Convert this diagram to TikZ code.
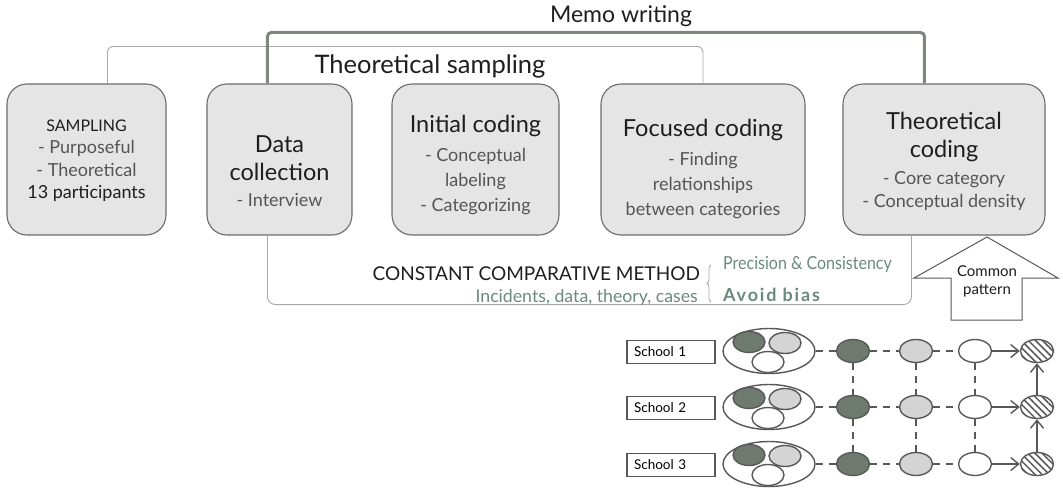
\documentclass[tikz,border=0pt]{standalone}
\usepackage{fontspec}
\usepackage{graphicx}
\setmainfont{Lato}
\usetikzlibrary{arrows.meta,patterns.meta,shapes.geometric,decorations.pathreplacing}
\definecolor{boxfill}{HTML}{E6E5E5}
\definecolor{boxline}{HTML}{6B6B6B}
\definecolor{titlec}{HTML}{1E1E1E}
\definecolor{subc}{HTML}{555555}
\definecolor{memoc}{HTML}{7D877D}
\definecolor{thinc}{HTML}{A8A8A8}
\definecolor{greenc}{HTML}{6A8A7C}
\definecolor{darkf}{HTML}{6F7A6E}
\definecolor{lightf}{HTML}{D4D4D4}
\definecolor{inkc}{HTML}{585858}
\newcommand\dimtxt[1]{{\fontsize{18}{24}\selectfont\textcolor{subc}{#1}}}
\begin{document}
\begin{tikzpicture}[x=1pt,y=-1pt,
  box/.style={draw=boxline, line width=1.1pt, fill=boxfill, rounded corners=20pt,
    minimum height=151pt, inner sep=0pt},
  btext/.style={align=center, inner sep=0pt, text=titlec, font=\fontsize{23.5}{28}\selectfont},
  memoline/.style={draw=memoc, line width=3pt, rounded corners=4pt},
  thinline/.style={draw=thinc, line width=0.9pt, rounded corners=6pt},
  lbl/.style={inner sep=0pt, text=titlec},
  schoolbox/.style={draw=inkc, line width=1.3pt, minimum height=23pt, text width=74pt,
    inner xsep=7pt, inner ysep=0pt, align=left, font=\fontsize{13.5}{15}\selectfont},
  grp/.style={ellipse, draw=inkc, line width=1.4pt, fill=white, minimum width=92pt, minimum height=45pt, inner sep=0pt},
  cell/.style={ellipse, draw=inkc, line width=1.4pt, minimum width=33pt, minimum height=23pt, inner sep=0pt},
  gcell/.style={cell, minimum width=32pt, minimum height=21pt},
  dk/.style={fill=darkf},
  lt/.style={fill=lightf},
  wh/.style={fill=white},
  ht/.style={cell, pattern={Lines[angle=-45,distance=5pt,line width=1.5pt]}, pattern color=inkc},
  dline/.style={draw=inkc, line width=1.6pt, dash pattern=on 7pt off 6pt},
  aline/.style={draw=inkc, line width=1.6pt, -{Straight Barb[length=8pt,width=13pt,line width=1.4pt]}},
]
\useasboundingbox (0,0) rectangle (1063,493);

% main boxes
\node[box, minimum width=159pt] (samp) at (86.5,159.5) {};
\node[box, minimum width=145pt] (data) at (279.5,159.5) {};
\node[box, minimum width=167pt] (init) at (475.5,159.5) {};
\node[box, minimum width=204pt] (foc) at (703,159.5) {};
\node[box, minimum width=202pt] (theo) at (944,159.5) {};

\node[btext, font=\fontsize{18}{22.5}\selectfont] (samp-t) at ([yshift=-1pt]samp.center)
  {{\fontsize{16}{22.5}\selectfont SAMPLING}\\ \textcolor{subc}{- Purposeful}\\ \textcolor{subc}{- Theoretical}\\ 13 participants};
\node[btext] (data-t) at ([yshift=-12pt]data.center)
  {Data\\ collection\\[-2pt] \dimtxt{- Interview}};
\node[btext] (init-t) at ([yshift=-5pt]init.center)
  {Initial coding\\[1pt] \dimtxt{- Conceptual}\\[-3pt] \dimtxt{labeling}\\[-3pt] \dimtxt{- Categorizing}};
\node[btext] (foc-t) at ([yshift=-9pt]foc.center)
  {Focused coding\\[1pt] \dimtxt{- Finding}\\[-3pt] \dimtxt{relationships}\\[-3pt] \dimtxt{between categories}};
\node[btext] (theo-t) at ([yshift=-2pt]theo.center)
  {Theoretical\\ coding\\[-1pt] \dimtxt{- Core category}\\[-5pt] \dimtxt{- Conceptual density}};

% brackets
\draw[thinline] ([xshift=101pt]samp.north west) -- ++(0,-37) -| (foc.north);
\draw[memoline] ([xshift=61pt]data.north west) -- ++(0,-51) -| ([xshift=82pt]theo.north west);
\draw[thinline, rounded corners=8pt] ([xshift=61pt]data.south west) -- ++(0,69) -| ([xshift=69pt]theo.south west);

\node[lbl, anchor=base, font=\fontsize{23}{26}\selectfont] (memo) at (621,22) {Memo writing};
\node[lbl, anchor=base, font=\fontsize{25.5}{28}\selectfont] (tsamp) at (430,73) {Theoretical sampling};

% constant comparative method
\node[lbl, anchor=base east, font=\fontsize{19}{22}\selectfont] (ccm) at (700,280) {CONSTANT COMPARATIVE METHOD};
\node[lbl, anchor=base east, text=greenc, font=\fontsize{17.7}{20}\selectfont] (inc) at (698,302) {Incidents, data, theory, cases};
\draw[thinc, line width=0.8pt, decorate, decoration={brace, amplitude=4pt}] (711,302) -- (711,265);
\node[lbl, anchor=base west, text=greenc, font=\fontsize{18}{20}\selectfont] (prec) at (723,269) {\scalebox{0.89}[1]{Precision \& Consistency}};
\node[lbl, anchor=base west, text=greenc, font=\bfseries\fontsize{18}{20}\selectfont\addfontfeature{LetterSpace=10}] (bias) at (723,301) {Avoid bias};

% common pattern arrow
\draw[inkc, line width=1pt, fill=white] (987,237) -- (1058,278) -- (1022,278) -- (1022,320)
  -- (951,320) -- (951,278) -- (914,278) -- cycle;
\node[lbl, align=center, font=\fontsize{15}{18}\selectfont] (cp) at (987,281) {Common\\ pattern};

% schools
\foreach \r/\y in {1/352,2/408,3/465}{
  \node[schoolbox] (s\r) at (671,\y) {School \r};
  \node[grp] (g\r) at (769,\y-1) {};
  \node[gcell, dk] (gd\r) at (749,\y-10) {};
  \node[gcell, lt] (gl\r) at (785,\y-9) {};
  \node[gcell, wh] (gw\r) at (768,\y+10) {};
  \node[cell, dk] (d\r) at (853,\y-1) {};
  \node[cell, lt] (l\r) at (916,\y-1) {};
  \node[cell, wh] (w\r) at (975,\y-1) {};
  \node[ht] (h\r) at (1037,\y-1) {};
  \draw[dline] (g\r) -- (d\r);
  \draw[dline] (d\r) -- (l\r);
  \draw[dline] (l\r) -- (w\r);
  \draw[aline] (w\r) -- (h\r);
}
\foreach \c in {d,l,w}{
  \draw[dline] (\c1) -- (\c2);
  \draw[dline] (\c2) -- (\c3);
}
\draw[aline] (h3) -- (h2);
\draw[aline] (h2) -- (h1);
\end{tikzpicture}
\end{document}
